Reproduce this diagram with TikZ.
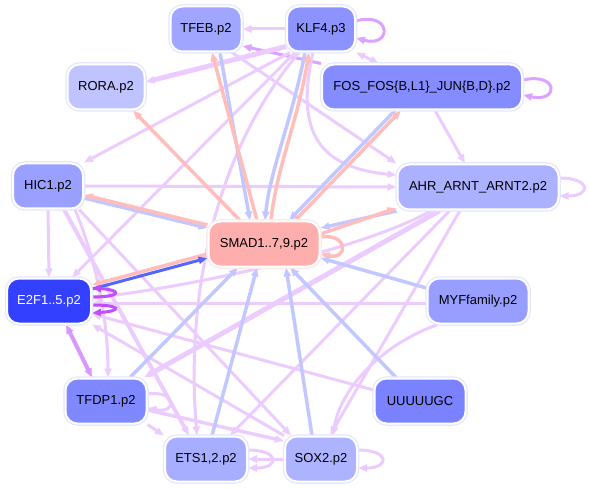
\documentclass[tikz,border=0pt]{standalone}
\usepackage{fontspec}
\setmainfont{Liberation Sans}
\usetikzlibrary{arrows.meta,backgrounds}
\definecolor{ppl}{RGB}{236,204,255}
\definecolor{ppltwo}{RGB}{220,162,255}
\definecolor{pplthree}{RGB}{216,152,255}
\definecolor{pplloop}{RGB}{196,76,255}
\definecolor{blu}{RGB}{194,200,255}
\definecolor{dblu}{RGB}{85,102,255}
\definecolor{sal}{RGB}{255,190,188}
\definecolor{halo}{RGB}{228,230,255}
\definecolor{cTFEB}{RGB}{160,166,255}
\definecolor{cKLF}{RGB}{140,147,255}
\definecolor{cRORA}{RGB}{191,195,255}
\definecolor{cFOS}{RGB}{132,140,255}
\definecolor{cHIC}{RGB}{153,160,255}
\definecolor{cAHR}{RGB}{171,176,255}
\definecolor{cSMAD}{RGB}{255,174,174}
\definecolor{cE2F}{RGB}{51,64,255}
\definecolor{cMYF}{RGB}{151,158,255}
\definecolor{cTFDP}{RGB}{128,136,255}
\definecolor{cUUU}{RGB}{122,130,255}
\definecolor{cETS}{RGB}{168,174,255}
\definecolor{cSOX}{RGB}{174,179,255}
\tikzset{
  nd/.style={rounded corners=12pt, minimum height=45pt, inner sep=0pt,
    font=\fontsize{13}{15}\selectfont, text=black, draw=white, line width=2pt,
    preaction={draw=halo, line width=4.5pt}},
  tip/.style={-{Triangle[length=9pt,width=7pt]}},
  twoway/.style={{Triangle[length=9pt,width=7pt]}-{Triangle[length=9pt,width=7pt]}},
  pe/.style={draw=ppl, line width=3pt, tip},
  pd/.style={draw=ppltwo, line width=3pt, tip},
  be/.style={draw=blu, line width=3.5pt, tip},
  dbe/.style={draw=dblu, line width=3pt, tip},
  se/.style={draw=sal, line width=3.5pt, tip},
}
\begin{document}
\begin{tikzpicture}[x=1pt,y=-1pt]
\useasboundingbox (0,0) rectangle (589,489);
% nodes
\node[nd, fill=cTFEB, minimum width=71pt] (tfeb) at (206,29) {TFEB.p2};
\node[nd, fill=cKLF, minimum width=68pt] (klf) at (321,29) {KLF4.p3};
\node[nd, fill=cRORA, minimum width=77pt] (rora) at (106,87) {RORA.p2};
\node[nd, fill=cFOS, minimum width=200pt] (fos) at (422,87) {FOS\_FOS\{B,L1\}\_JUN\{B,D\}.p2};
\node[nd, fill=cHIC, minimum width=70pt] (hic) at (48,186) {HIC1.p2};
\node[nd, fill=cAHR, minimum width=161pt] (ahr) at (478,187) {AHR\_ARNT\_ARNT2.p2};
\node[nd, fill=cSMAD, minimum width=111pt, preaction={draw=sal!35, line width=4.5pt}] (smad) at (264,244) {SMAD1..7,9.p2};
\node[nd, fill=cE2F, minimum width=84pt, text=white] (e2f) at (49,301) {E2F1..5.p2};
\node[nd, fill=cMYF, minimum width=101pt] (myf) at (478,301) {MYFfamily.p2};
\node[nd, fill=cTFDP, minimum width=81pt] (tfdp) at (106,401) {TFDP1.p2};
\node[nd, fill=cUUU, minimum width=91pt] (uuu) at (420,401) {UUUUUGC};
\node[nd, fill=cETS, minimum width=82pt] (ets) at (206,459) {ETS1,2.p2};
\node[nd, fill=cSOX, minimum width=72pt] (sox) at (321,459) {SOX2.p2};

\begin{scope}[on background layer]
% purple edges
\draw[pe] (klf.west) -- (tfeb.east);
\draw[pd] ([yshift=8pt]klf.east) .. controls +(36,-10) and +(36,10) .. ([yshift=-9pt]klf.east);
\draw[pd] (fos.north west) -- (tfeb.-25);
\draw[pe, twoway] (klf.south east) -- ([xshift=-43pt]fos.north);
\draw[pd] ([yshift=7pt]fos.east) .. controls +(36,-8) and +(36,8) .. ([yshift=-8pt]fos.east);
\draw[pe] ([xshift=13pt]fos.south) -- ([xshift=-13pt]ahr.north);
\draw[pe, line width=5pt] ([yshift=6pt]klf.south west) -- ([yshift=5pt]rora.east);
\draw[pe] ([xshift=4pt]klf.south west) -- (hic.north east);
\draw[pe] ([xshift=9pt]klf.south west) -- ([xshift=23pt]e2f.north);
\draw[pe] ([xshift=13pt]klf.south west) .. controls (200,170) and (188,330) .. ([xshift=-9pt]ets.north);
\draw[pe] ([xshift=-8pt]klf.south) .. controls (294,135) and (322,168) .. ([yshift=12pt]ahr.west);
\draw[pe] ([xshift=26pt]tfeb.south) -- (ahr.north west);
\draw[pe] (hic.east) -- (ahr.west);
\draw[pe] (hic.south) -- (e2f.north);
\draw[pe] ([xshift=27pt]hic.south) .. controls (100,270) and (108,330) .. ([xshift=2pt]tfdp.north);
\draw[pe, line width=4pt] ([xshift=16pt]hic.south) -- ([xshift=-17pt]ets.north);
\draw[pe] ([xshift=31pt]hic.south) -- ([xshift=-30pt]sox.north);
\draw[draw=pplthree, line width=4pt, twoway] ([xshift=17pt]e2f.south) -- ([xshift=-14pt]tfdp.north);
\draw[pe] ([yshift=-2pt]myf.west) -- ([yshift=-2pt]e2f.east);
\draw[pe] ([yshift=11pt]uuu.west) -- ([yshift=-13pt]e2f.east);
\draw[pe] (sox.north west) -- (e2f.south east);
\draw[pe] ([xshift=-46pt]ahr.south) .. controls (360,250) and (200,285) .. ([yshift=3pt]e2f.east);
\draw[pe, line width=5pt] ([xshift=-38pt]ahr.south) -- ([xshift=38pt]tfdp.north);
\draw[pe] ([xshift=-28pt]ahr.south) -- ([xshift=24pt]ets.north);
\draw[pe] ([xshift=-18pt]ahr.south) -- ([xshift=9pt]sox.north);
\draw[pe] ([xshift=-40pt]myf.south) .. controls (380,345) and (340,390) .. ([xshift=12pt]sox.north);
\draw[pe] ([yshift=7pt]tfdp.east) .. controls +(30,-4) and +(30,6) .. ([yshift=-7pt]tfdp.east);
\draw[pe] (tfdp.south east) -- (ets.north west);
\draw[pe, line width=3.5pt] ([yshift=-9pt]tfdp.east) -- ([yshift=18pt]sox.west);
\draw[pe] (sox.west) -- (ets.east);
\draw[pe] ([yshift=9pt]ets.east) .. controls +(32,0) and +(32,0) .. ([yshift=-9pt]ets.east);
\draw[pe] ([yshift=9pt]sox.east) .. controls +(32,0) and +(32,0) .. ([yshift=-9pt]sox.east);
\draw[pe] ([yshift=9pt]ahr.east) .. controls +(32,0) and +(32,0) .. ([yshift=-9pt]ahr.east);
% blue / salmon edges
\draw[be] ([xshift=14pt]tfeb.south) -- ([xshift=-14pt]smad.north);
\draw[se] ([xshift=-7pt]smad.north) -- ([xshift=6pt]tfeb.south);
\draw[be] ([xshift=-16pt]klf.south) .. controls (292,120) and (270,170) .. ([xshift=1pt]smad.north);
\draw[se] ([xshift=7pt]smad.north) .. controls (276,170) and (298,120) .. ([xshift=-12pt]klf.south);
\draw[be] ([xshift=-27pt]fos.south) -- ([xshift=25pt]smad.north);
\draw[se] ([xshift=31pt]smad.north) -- ([xshift=-21pt]fos.south);
\draw[se] ([xshift=-24pt]smad.north) -- ([xshift=27pt]rora.south);
\draw[be] ([yshift=-24pt]ahr.west) -- ([yshift=16pt]smad.east);
\draw[se] ([yshift=10pt]smad.east) -- ([yshift=-21pt]ahr.west);
\draw[se] ([yshift=7pt]smad.east) .. controls +(28,-4) and +(28,6) .. ([yshift=-10pt]smad.east);
\draw[be] ([yshift=-12pt]hic.east) -- ([yshift=16pt]smad.west);
\draw[se] ([yshift=19pt]smad.west) -- ([yshift=-9pt]hic.east);
\draw[se] ([yshift=-10pt]smad.west) -- ([yshift=16pt]e2f.east);
\draw[dbe] ([yshift=12pt]e2f.east) -- ([yshift=-14pt]smad.west);
\draw[be] ([yshift=13pt]myf.west) -- ([yshift=-14pt]smad.east);
\draw[be] ([xshift=-24pt]uuu.north) -- ([xshift=26pt]smad.south);
\draw[be] ([xshift=-9pt]sox.north) -- ([xshift=22pt]smad.south);
\draw[be] ([xshift=6pt]ets.north) -- ([xshift=-7pt]smad.south);
\draw[be] ([xshift=24pt]tfdp.north) -- ([xshift=-26pt]smad.south);
% E2F self loops
\draw[draw=pplloop, line width=3pt, tip] ([yshift=4pt]e2f.east) .. controls +(30,0) and +(30,2) .. ([yshift=13pt]e2f.east);
\draw[draw=pplloop, line width=3pt, tip] ([yshift=-4pt]e2f.east) .. controls +(30,0) and +(30,-2) .. ([yshift=-12pt]e2f.east);
\end{scope}
\end{tikzpicture}
\end{document}
